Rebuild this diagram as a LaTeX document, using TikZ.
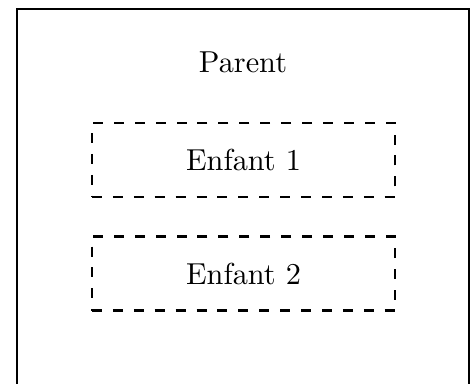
\documentclass[tikz,border=0pt]{standalone}
\begin{document}
\begin{tikzpicture}[x=0.33pt,y=-0.33pt,
  frame/.style={draw=black,line width=0.7pt,minimum width=452*0.33pt,minimum height=400*0.33pt,inner sep=0pt},
  childbox/.style={draw=black,line width=0.75pt,dash pattern=on 3.3pt off 3.6pt,minimum width=303*0.33pt,minimum height=74*0.33pt,inner sep=0pt},
  lbl/.style={font=\fontsize{10}{12}\selectfont}]
\useasboundingbox (0,0) rectangle (470,383);
\clip (0,0) rectangle (470,383);
\node[frame] (parent) at (243,209) {};
\node[lbl] (ptitle) at (243,62) {Parent};
\node[childbox,lbl] (enf1) at (243.5,160) {Enfant 1};
\node[childbox,lbl] (enf2) at (243.5,273.5) {Enfant 2};
\end{tikzpicture}
\end{document}
